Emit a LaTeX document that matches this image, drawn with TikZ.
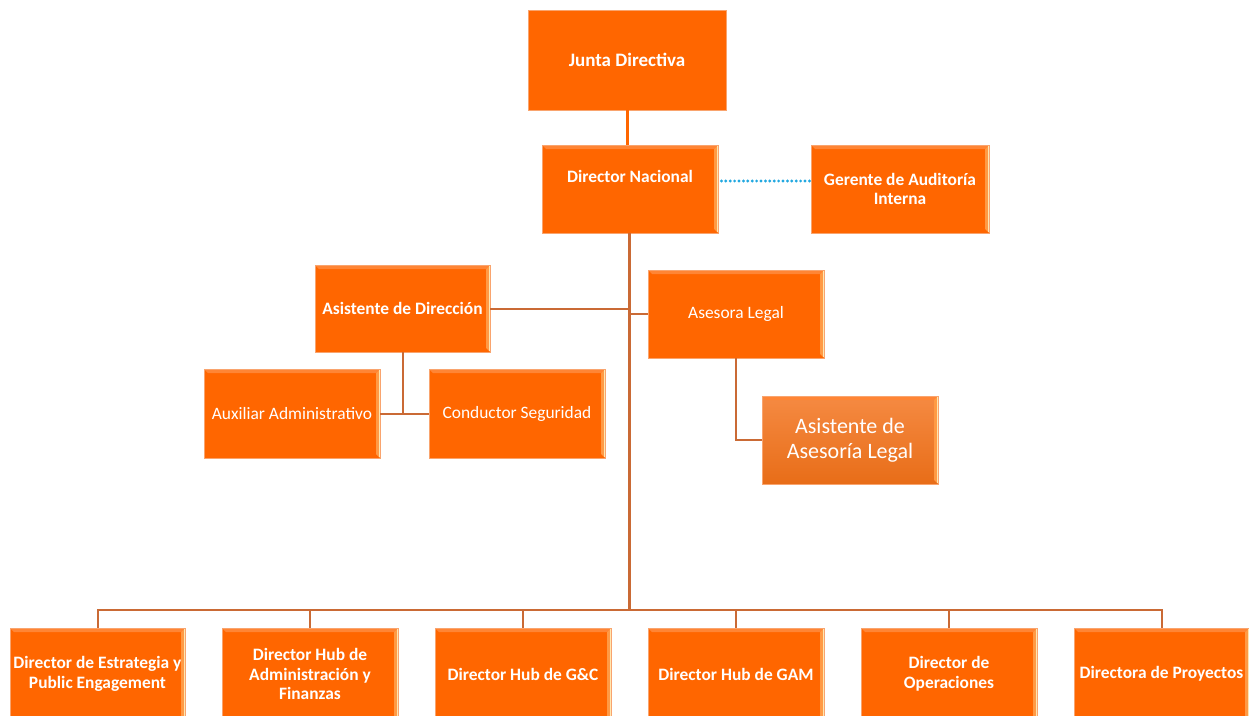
\documentclass[tikz,border=0pt]{standalone}
\usepackage{fontspec}
\setmainfont{Carlito}
\begin{document}
\begin{tikzpicture}[x=1pt,y=-1pt,
  every node/.style={inner sep=2pt},
  orgbox/.style={rectangle, fill=boxorange, draw=boxedge, line width=0.8pt, text=white, align=center,
    minimum width=176pt, minimum height=88pt},
  bottombox/.style={orgbox, bevel, bt, minimum height=92pt},
  bevel/.style={path picture={
    \fill[bevtop] (path picture bounding box.north west) -- (path picture bounding box.north east)
       -- ([shift={(-4pt,-4pt)}]path picture bounding box.north east) -- ([shift={(4pt,-4pt)}]path picture bounding box.north west) -- cycle;
    \fill[bevright] (path picture bounding box.north east) -- (path picture bounding box.south east)
       -- ([shift={(-4pt,4pt)}]path picture bounding box.south east) -- ([shift={(-4pt,-4pt)}]path picture bounding box.north east) -- cycle;
    \draw[bevpale, line width=1.2pt] ([shift={(-0.8pt,-1pt)}]path picture bounding box.north east) -- ([shift={(-0.8pt,1pt)}]path picture bounding box.south east);
  }},
  bt/.style={font=\fontsize{17.4}{19.5}\selectfont\bfseries},
  nt/.style={font=\fontsize{17.4}{19.5}\selectfont},
  conn/.style={draw=connbrown, line width=2pt},
  trunk/.style={draw=connbrown, line width=3pt}
]
\definecolor{boxorange}{HTML}{FF6600}
\definecolor{boxedge}{HTML}{F9A46E}
\definecolor{bevtop}{HTML}{FF8535}
\definecolor{bevright}{HTML}{FF9A45}
\definecolor{bevpale}{HTML}{FFE6B0}
\definecolor{connbrown}{HTML}{CA6A35}
\definecolor{dotblue}{HTML}{22A8E0}
\definecolor{gradtop}{HTML}{F58A42}
\definecolor{gradbot}{HTML}{E86D18}

\useasboundingbox (0,0) rectangle (1249,715);

% top
\node[orgbox, font=\fontsize{19}{21}\selectfont\bfseries, minimum width=198pt, minimum height=100pt] (jd) at (627,60) {Junta Directiva};
\node[orgbox, bevel, bt, text height=12pt, text depth=26pt] (dn) at (630,189) {Director Nacional};
\node[orgbox, bevel, bt, minimum width=178pt] (ga) at (900,189) {Gerente de Auditoría\\Interna};

% middle
\node[orgbox, bevel, bt, minimum width=175pt, minimum height=87pt] (ad) at (402.5,308.5) {Asistente de Dirección};
\node[orgbox, bevel, nt] (al) at (736,314) {Asesora Legal};
\node[orgbox, bevel, nt, minimum width=176pt, minimum height=89pt] (aux) at (292,413.5) {Auxiliar Administrativo};
\node[orgbox, bevel, nt, minimum width=176pt, minimum height=89pt] (cs) at (517,413.5) {Conductor Seguridad};
\node[orgbox, bevel, top color=gradtop, bottom color=gradbot, font=\fontsize{22}{24.5}\selectfont] (aal) at (850,440) {Asistente de\\Asesoría Legal};

% bottom
\node[bottombox, minimum width=175pt] (b1) at (97.5,674) {Director de Estrategia y\\Public Engagement};
\node[bottombox] (b2) at (310,674) {Director Hub de\\Administración y\\Finanzas};
\node[bottombox] (b3) at (523,674) {Director Hub de G\&C};
\node[bottombox] (b4) at (736,674) {Director Hub de GAM};
\node[bottombox] (b5) at (949,674) {Director de\\Operaciones};
\node[bottombox, minimum width=175pt] (b6) at (1161.5,674) {Directora de Proyectos};

% connectors
\draw[draw=boxorange, line width=3pt] (jd.south) -- (jd.south |- dn.north);
\draw[dotblue, line width=3.2pt, line cap=round, dash pattern=on 0pt off 4.4pt]
  ([shift={(3pt,8pt)}]dn.east) -- ([shift={(-1pt,8pt)}]dn.east -| ga.west);
\coordinate (bus) at (629,610);
\draw[trunk] ([xshift=-1pt]dn.south) -- (bus);
\draw[conn] (ad.east) -- (ad.east -| bus);
\draw[conn] (al.west) -- (al.west -| bus);
\draw[conn] (ad.south) |- (aux.east);
\draw[conn] (ad.south) |- (cs.west);
\draw[conn] (al.south) |- (aal.west);
\foreach \b in {b1,b2,b3,b4,b5,b6}{
  \draw[conn] (bus) -| (\b.north);
}
\end{tikzpicture}
\end{document}
